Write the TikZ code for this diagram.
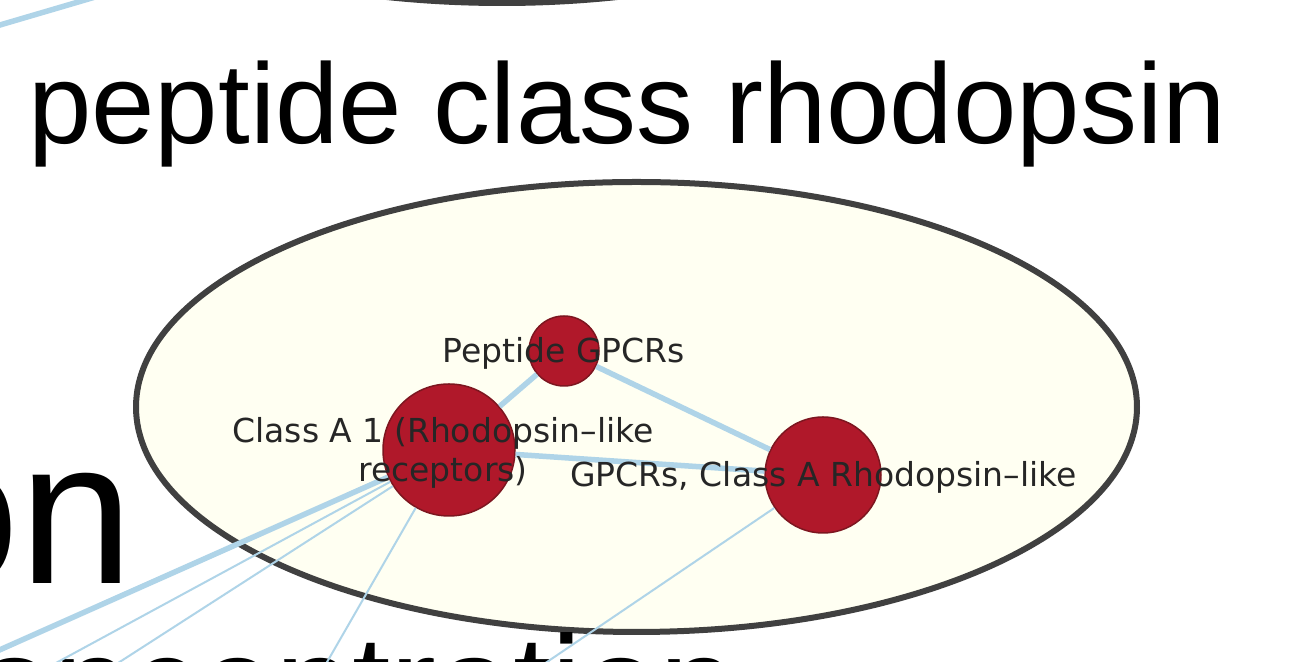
\documentclass[tikz,border=0pt]{standalone}
\usepackage{fontspec}
\setmainfont{Liberation Sans}
\newfontfamily\labelfont{DejaVu Sans}
\usetikzlibrary{shapes.geometric}
\definecolor{groupfill}{RGB}{255,255,242}
\definecolor{groupline}{RGB}{64,64,64}
\definecolor{edgeblue}{RGB}{175,212,232}
\definecolor{nodered}{RGB}{176,24,42}
\definecolor{noderim}{RGB}{125,22,32}

\begin{document}
\begin{tikzpicture}
     [
     groupoval/.style={ellipse, draw=groupline, fill=groupfill, line width=0.06cm, minimum width=10.01cm, minimum height=4.5cm},
     redball/.style={circle, draw=noderim, fill=nodered, line width=0.015cm, inner sep=0pt},
     lbl/.style={anchor=base, inner sep=0pt, align=center, text=black!85, font=\labelfont\fontsize{9.39pt}{11.1pt}\selectfont},
     bigword/.style={anchor=base west, inner sep=0pt, text=black},
     edgethick/.style={draw=edgeblue, line width=0.055cm},
     edgethin/.style={draw=edgeblue, line width=0.02cm},
     ]
 \useasboundingbox (0,0) rectangle (12.98,-6.62);
 \fill[white] (0,0) rectangle (12.98,-6.62);
 \clip (0,0) rectangle (12.98,-6.62);
 % groups
 \node at (5.02,2.22) [groupoval] (grptop) {};
 \node at (6.365,-4.07) [groupoval] (grp) {};
 % group titles
 \node at (0.275,-1.44) [bigword, font=\fontsize{32.44pt}{38pt}\selectfont] (title) {peptide class rhodopsin};
 \node at (-0.95,-5.84) [bigword, font=\fontsize{58.33pt}{68pt}\selectfont] (wordon) {on};
 \node at (-0.93,-7.33) [bigword, font=\fontsize{39.26pt}{46pt}\selectfont] (wordconc) {concentration};
 % nodes
 \node at (5.64,-3.51) [redball, minimum size=0.70cm] (pep) {};
 \node at (4.49,-4.50) [redball, minimum size=1.32cm] (cA1) {};
 \node at (8.23,-4.75) [redball, minimum size=1.16cm] (gA) {};
 % free ends
 \coordinate (out1) at (-0.30,-0.338);
 \coordinate (out2) at (1.00,0.044);
 \coordinate (out3) at (-0.50,-6.72);
 \coordinate (out4) at (0.19,-6.83);
 \coordinate (out5) at (0.87,-6.83);
 \coordinate (out6) at (3.15,-6.83);
 \coordinate (out7) at (5.16,-6.83);
 % edges
 \draw[edgethick] (out1) -- (out2);
 \draw[edgethick] (cA1) -- (pep);
 \draw[edgethick] (pep) -- (gA);
 \draw[edgethick] (cA1) -- (gA);
 \draw[edgethick] (cA1) -- (out3);
 \draw[edgethin] (cA1) -- (out4);
 \draw[edgethin] (cA1) -- (out5);
 \draw[edgethin] (cA1) -- (out6);
 \draw[edgethin] (gA) -- (out7);
 % labels
 \node at (5.635,-3.63) [lbl] (pepl) {Peptide GPCRs};
 \node at (4.43,-4.82) [lbl] (cA1l) {Class A 1 (Rhodopsin–like\\receptors)};
 \node at (8.235,-4.87) [lbl] (gAl) {GPCRs, Class A Rhodopsin–like};
 \end{tikzpicture}
\end{document}
